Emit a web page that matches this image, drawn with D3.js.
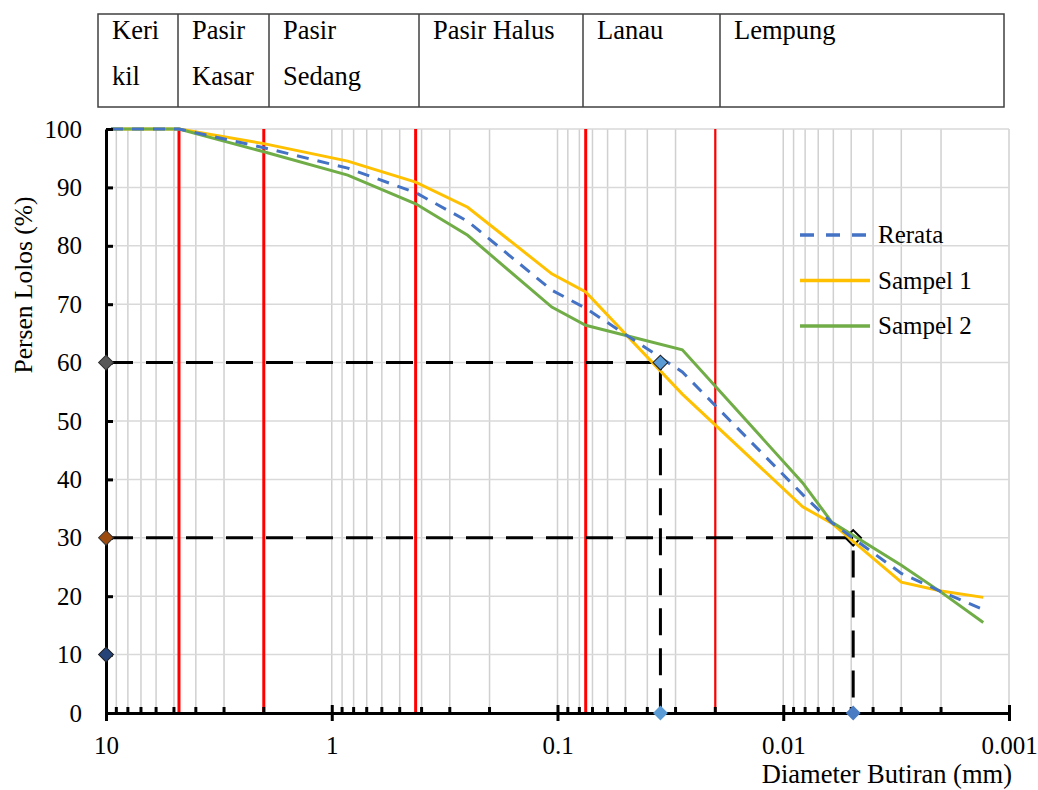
<!DOCTYPE html>
<html>
<head>
<meta charset="utf-8">
<script src="https://cdn.jsdelivr.net/npm/d3@7"></script>
<style>
  body { margin: 0; background: #fff; }
  svg text { font-family: "Liberation Serif", "Times New Roman", serif; fill: #000; }
</style>
</head>
<body>
<div id="chart"></div>
<script>
// grain size (mm) and percent passing
var diameter = [9.5, 4.75, 2.0, 0.85, 0.425, 0.25, 0.106, 0.075, 0.028, 0.0082, 0.0061, 0.0030, 0.0020, 0.0013];
var sampel1  = [100, 100, 97.5, 94.5, 90.9, 86.6, 75.2, 72.1, 54.6, 35.3, 32.5, 22.4, 20.9, 19.8];
var sampel2  = [100, 100, 96.1, 92.1, 87.2, 81.8, 69.5, 66.4, 62.2, 39.4, 32.7, 25.3, 20.7, 15.5];
var rerata   = [100, 100, 96.8, 93.3, 89.1, 84.2, 72.4, 69.3, 58.4, 37.4, 32.6, 23.9, 20.8, 17.7];

var xTicks = [10, 1, 0.1, 0.01, 0.001];
var yTicks = [0, 10, 20, 30, 40, 50, 60, 70, 80, 90, 100];
var boundaries = [4.75, 2.0, 0.425, 0.075, 0.02];   // red lines
var d60 = 0.035, d30 = 0.0049;
var tableLabels = [["Keri", "kil"], ["Pasir", "Kasar"], ["Pasir", "Sedang"], ["Pasir Halus"], ["Lanau"], ["Lempung"]];

var margin = {top: 129, left: 106},
    width = 903,
    height = 584;

var svg = d3.select("#chart")
  .append("svg")
    .attr("width", 1038)
    .attr("height", 790);

var x = d3.scaleLog().domain([10, 0.001]).range([margin.left, margin.left + width]);
var y = d3.scaleLinear().domain([0, 100]).range([margin.top + height, margin.top]);

// table of soil classes
var tableCols = [98, 178, 269, 419, 583, 720, 1004];
var table = svg.append("g");
table.append("rect")
  .attr("x", tableCols[0]).attr("y", 14)
  .attr("width", tableCols[6] - tableCols[0]).attr("height", 93)
  .attr("fill", "none").attr("stroke", "#404040").attr("stroke-width", 1.5);
table.selectAll("line.col")
  .data(tableCols.slice(1, 6))
  .enter().append("line")
    .attr("x1", function(d) { return d; }).attr("x2", function(d) { return d; })
    .attr("y1", 14).attr("y2", 107)
    .attr("stroke", "#404040").attr("stroke-width", 1.5);
tableLabels.forEach(function(lines, i) {
  lines.forEach(function(t, j) {
    table.append("text")
      .attr("x", tableCols[i] + 14)
      .attr("y", 39 + j * 46)
      .attr("font-size", 26.5)
      .text(t);
  });
});

// grid
var minor = [];
[1, 0.1, 0.01, 0.001].forEach(function(e) {
  for (var m = 1; m <= 9; m++) {
    var v = +(m * e).toPrecision(3);
    if (v < 10) minor.push(v);
  }
});
svg.append("g").selectAll("line")
  .data(minor)
  .enter().append("line")
    .attr("x1", function(d) { return x(d); }).attr("x2", function(d) { return x(d); })
    .attr("y1", y(0)).attr("y2", y(100))
    .attr("stroke", "#d0d0d0").attr("stroke-width", 1.5);
svg.append("g").selectAll("line")
  .data(yTicks.slice(1))
  .enter().append("line")
    .attr("x1", x(10)).attr("x2", x(0.001))
    .attr("y1", function(d) { return y(d); }).attr("y2", function(d) { return y(d); })
    .attr("stroke", "#d9d9d9").attr("stroke-width", 1.5);

// red class boundaries
svg.append("g").selectAll("line")
  .data(boundaries)
  .enter().append("line")
    .attr("x1", function(d) { return x(d); }).attr("x2", function(d) { return x(d); })
    .attr("y1", y(0)).attr("y2", y(100))
    .attr("stroke", "#ff0000")
    .attr("stroke-width", function(d, i) { return i == 4 ? 2.2 : 3; });

// D60 / D30 guide lines
var guides = svg.append("g")
  .attr("stroke", "#000").attr("stroke-width", 3).attr("stroke-dasharray", "27,13").attr("fill", "none");
[[d60, 60], [d30, 30]].forEach(function(p) {
  guides.append("path")
    .attr("d", "M" + x(10) + "," + y(p[1]) + "H" + x(p[0]) + "V" + y(0));
});

// D30 marker outline (under the curves)
svg.append("path")
  .attr("d", d3.symbol(d3.symbolSquare, 120)())
  .attr("transform", "translate(" + x(d30) + "," + y(30) + ") rotate(45)")
  .attr("fill", "none").attr("stroke", "#000").attr("stroke-width", 2);

// curves
var line = d3.line()
  .x(function(d, i) { return x(diameter[i]); })
  .y(function(d) { return y(d); });

svg.append("path").datum(sampel1)
  .attr("d", line).attr("fill", "none")
  .attr("stroke", "#ffc000").attr("stroke-width", 3);
svg.append("path").datum(sampel2)
  .attr("d", line).attr("fill", "none")
  .attr("stroke", "#70ad47").attr("stroke-width", 3);
svg.append("path").datum(rerata)
  .attr("d", line).attr("fill", "none")
  .attr("stroke", "#4472c4").attr("stroke-width", 3).attr("stroke-dasharray", "12,9");

// axes
var xAxis = svg.append("g")
  .attr("transform", "translate(0," + y(0) + ")")
  .call(d3.axisBottom(x).tickValues(xTicks).tickSize(8).tickSizeOuter(0).tickPadding(15)
        .tickFormat(function(d) { return String(d); }));
xAxis.select(".domain").attr("stroke-width", 3);
xAxis.selectAll(".tick line").attr("y1", -8).attr("y2", 8).attr("stroke-width", 3);
xAxis.selectAll(".tick text").attr("font-size", 25).attr("font-family", "Liberation Serif");

svg.append("g").selectAll("line")
  .data(minor.filter(function(d) { return xTicks.indexOf(d) < 0; }))
  .enter().append("line")
    .attr("x1", function(d) { return x(d); }).attr("x2", function(d) { return x(d); })
    .attr("y1", y(0) - 6).attr("y2", y(0))
    .attr("stroke", "#000").attr("stroke-width", 3);

var yAxis = svg.append("g")
  .attr("transform", "translate(" + x(10) + ",0)")
  .call(d3.axisLeft(y).tickValues(yTicks).tickSize(7).tickSizeOuter(0).tickPadding(17));
yAxis.select(".domain").attr("stroke-width", 3);
yAxis.selectAll(".tick line").attr("x2", 7).attr("stroke-width", 3);
yAxis.selectAll(".tick text").attr("font-size", 25).attr("font-family", "Liberation Serif");

// axis titles
svg.append("text")
  .attr("transform", "translate(23," + 285 + ") rotate(-90)")
  .attr("text-anchor", "middle").attr("dominant-baseline", "central")
  .attr("font-size", 25.5)
  .text("Persen Lolos (%)");
svg.append("text")
  .attr("x", 1012).attr("y", 783)
  .attr("text-anchor", "end")
  .attr("font-size", 26.5)
  .text("Diameter Butiran (mm)");

// diamond markers
var diamonds = [
  {d: 10, p: 60, fill: "#595959", stroke: "#333"},
  {d: 10, p: 30, fill: "#9c4a0e", stroke: "#333"},
  {d: 10, p: 10, fill: "#264478", stroke: "#222"},
  {d: d60, p: 60, fill: "#5b9bd5", stroke: "#222"},
  {d: d60, p: 0, fill: "#5b9bd5", stroke: "none"},
  {d: d30, p: 0, fill: "#4a7cc4", stroke: "none"}
];
svg.append("g").selectAll("path")
  .data(diamonds)
  .enter().append("path")
    .attr("d", d3.symbol(d3.symbolSquare, 110)())
    .attr("transform", function(d) { return "translate(" + x(d.d) + "," + y(d.p) + ") rotate(45)"; })
    .attr("fill", function(d) { return d.fill; })
    .attr("stroke", function(d) { return d.stroke; })
    .attr("stroke-width", 1);

// legend
var legend = [
  {name: "Rerata", color: "#4472c4", dash: "14,12"},
  {name: "Sampel 1", color: "#ffc000", dash: null},
  {name: "Sampel 2", color: "#70ad47", dash: null}
];
var lg = svg.append("g").selectAll("g")
  .data(legend)
  .enter().append("g")
    .attr("transform", function(d, i) { return "translate(800," + (235 + i * 45.5) + ")"; });
lg.append("line")
  .attr("x1", 0).attr("x2", 70)
  .attr("stroke", function(d) { return d.color; })
  .attr("stroke-width", 3.5)
  .attr("stroke-dasharray", function(d) { return d.dash; });
lg.append("text")
  .attr("x", 78).attr("dy", "0.33em")
  .attr("font-size", 25)
  .text(function(d) { return d.name; });
</script>
</body>
</html>
